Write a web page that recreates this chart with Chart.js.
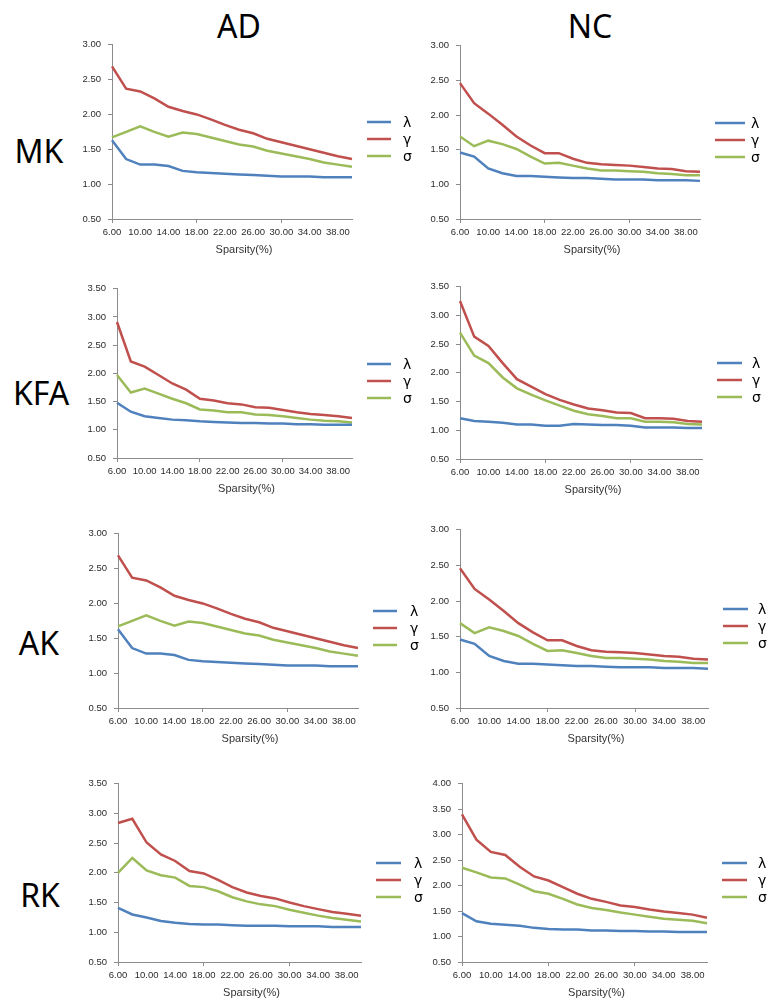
<!DOCTYPE html>
<html><head><meta charset="utf-8">
<script src="https://cdn.jsdelivr.net/npm/chart.js@4.4.1/dist/chart.umd.min.js"></script>
<style>
html,body{margin:0;padding:0;background:#fff}
body{width:769px;height:1002px;position:relative;overflow:hidden;font-family:"Noto Sans","Liberation Sans",sans-serif}
.lbl{position:absolute;font-size:32px;color:#000;transform:translate(-50%,-50%);line-height:1;white-space:nowrap}
canvas{position:absolute}
</style></head><body>
<div class="lbl" style="left:239px;top:26px">AD</div>
<div class="lbl" style="left:590px;top:26px">NC</div>
<div class="lbl" style="left:39px;top:151px">MK</div>
<div class="lbl" style="left:41px;top:393px">KFA</div>
<div class="lbl" style="left:39px;top:643px">AK</div>
<div class="lbl" style="left:40px;top:895px">RK</div>
<script>
// ---- data ----
const sparsity = ['6.00','8.00','10.00','12.00','14.00','16.00','18.00','20.00','22.00','24.00','26.00','28.00','30.00','32.00','34.00','36.00','38.00','40.00'];
const seriesNames = ['λ','γ','σ'];
const axisTitle = 'Sparsity(%)';

const mkAdLambda = [1.63,1.36,1.28,1.28,1.26,1.19,1.17,1.16,1.15,1.14,1.13,1.12,1.11,1.11,1.11,1.10,1.10,1.10];
const mkAdGamma  = [2.69,2.37,2.33,2.23,2.11,2.05,2.00,1.93,1.85,1.78,1.73,1.65,1.60,1.55,1.50,1.45,1.40,1.36];
const mkAdSigma  = [1.67,1.75,1.83,1.75,1.68,1.74,1.72,1.67,1.62,1.57,1.54,1.48,1.44,1.40,1.36,1.31,1.28,1.25];

const mkNcLambda = [1.46,1.40,1.23,1.16,1.12,1.12,1.11,1.10,1.09,1.09,1.08,1.07,1.07,1.07,1.06,1.06,1.06,1.05];
const mkNcGamma  = [2.46,2.17,2.02,1.86,1.69,1.56,1.45,1.45,1.37,1.31,1.29,1.28,1.27,1.25,1.23,1.22,1.19,1.18];
const mkNcSigma  = [1.69,1.55,1.63,1.58,1.51,1.40,1.30,1.31,1.27,1.23,1.20,1.20,1.19,1.18,1.16,1.15,1.13,1.13];

const kfaAdLambda = [1.48,1.32,1.24,1.21,1.18,1.17,1.15,1.14,1.13,1.12,1.12,1.11,1.11,1.10,1.10,1.09,1.09,1.09];
const kfaAdGamma  = [2.91,2.21,2.12,1.97,1.82,1.71,1.55,1.52,1.47,1.45,1.40,1.39,1.35,1.31,1.28,1.26,1.24,1.21];
const kfaAdSigma  = [1.97,1.66,1.73,1.64,1.55,1.47,1.36,1.34,1.31,1.31,1.27,1.26,1.24,1.21,1.18,1.16,1.15,1.13];

const kfaNcLambda = [1.21,1.16,1.15,1.13,1.10,1.10,1.08,1.08,1.11,1.10,1.09,1.09,1.08,1.05,1.05,1.05,1.04,1.04];
const kfaNcGamma  = [3.25,2.63,2.47,2.17,1.89,1.76,1.63,1.53,1.45,1.38,1.35,1.31,1.30,1.21,1.21,1.20,1.16,1.15];
const kfaNcSigma  = [2.70,2.30,2.17,1.92,1.73,1.62,1.52,1.43,1.34,1.28,1.25,1.21,1.21,1.15,1.15,1.14,1.11,1.10];

const akAdLambda = [1.63,1.36,1.28,1.28,1.26,1.19,1.17,1.16,1.15,1.14,1.13,1.12,1.11,1.11,1.11,1.10,1.10,1.10];
const akAdGamma  = [2.69,2.37,2.33,2.23,2.11,2.05,2.00,1.93,1.85,1.78,1.73,1.65,1.60,1.55,1.50,1.45,1.40,1.36];
const akAdSigma  = [1.67,1.75,1.83,1.75,1.68,1.74,1.72,1.67,1.62,1.57,1.54,1.48,1.44,1.40,1.36,1.31,1.28,1.25];

const akNcLambda = [1.46,1.40,1.23,1.16,1.12,1.12,1.11,1.10,1.09,1.09,1.08,1.07,1.07,1.07,1.06,1.06,1.06,1.05];
const akNcGamma  = [2.46,2.17,2.02,1.86,1.69,1.56,1.45,1.45,1.37,1.31,1.29,1.28,1.27,1.25,1.23,1.22,1.19,1.18];
const akNcSigma  = [1.69,1.55,1.63,1.58,1.51,1.40,1.30,1.31,1.27,1.23,1.20,1.20,1.19,1.18,1.16,1.15,1.13,1.13];

const rkAdLambda = [1.41,1.30,1.25,1.19,1.16,1.14,1.13,1.13,1.12,1.11,1.11,1.11,1.10,1.10,1.10,1.09,1.09,1.09];
const rkAdGamma  = [2.84,2.91,2.51,2.31,2.20,2.03,1.99,1.88,1.76,1.67,1.61,1.57,1.50,1.44,1.39,1.34,1.31,1.28];
const rkAdSigma  = [2.00,2.25,2.04,1.96,1.92,1.78,1.76,1.69,1.59,1.52,1.47,1.44,1.38,1.33,1.28,1.24,1.21,1.18];

const rkNcLambda = [1.46,1.30,1.25,1.23,1.21,1.17,1.15,1.14,1.14,1.12,1.12,1.11,1.11,1.10,1.10,1.09,1.09,1.09];
const rkNcGamma  = [3.40,2.90,2.66,2.60,2.37,2.18,2.10,1.97,1.84,1.74,1.68,1.61,1.58,1.53,1.49,1.46,1.43,1.37];
const rkNcSigma  = [2.35,2.26,2.16,2.14,2.02,1.89,1.84,1.74,1.63,1.56,1.52,1.47,1.43,1.39,1.35,1.33,1.31,1.26];

const yMaxes = [3.0, 3.0, 3.5, 3.5, 3.0, 3.0, 3.5, 4.0];

// ---- layout (positions/styles only) ----
const colors = ['#4F81BD','#C0504D','#9BBB59'];
const AXIS = '#8C8C8C';
const TICKFONT = {family:'"Liberation Sans", Arial, sans-serif', size:9.5};
const panels = [
  {series:[mkAdLambda,mkAdGamma,mkAdSigma],   cl:60,  cw:380, L:112, R:352, T:44,  B:219, ymax:yMaxes[0], lineLen:24, gap:12},
  {series:[mkNcLambda,mkNcGamma,mkNcSigma],   cl:400, cw:369, L:460, R:700, T:45,  B:219, ymax:yMaxes[1], lineLen:30, gap:6},
  {series:[kfaAdLambda,kfaAdGamma,kfaAdSigma],cl:60,  cw:380, L:117, R:352, T:288, B:458, ymax:yMaxes[2], lineLen:24, gap:12},
  {series:[kfaNcLambda,kfaNcGamma,kfaNcSigma],cl:400, cw:369, L:460, R:702, T:286, B:459, ymax:yMaxes[3], lineLen:25, gap:10},
  {series:[akAdLambda,akAdGamma,akAdSigma],   cl:60,  cw:380, L:118, R:358, T:533, B:708, ymax:yMaxes[4], lineLen:24, gap:13},
  {series:[akNcLambda,akNcGamma,akNcSigma],   cl:400, cw:369, L:460, R:708, T:529, B:708, ymax:yMaxes[5], lineLen:25, gap:10},
  {series:[rkAdLambda,rkAdGamma,rkAdSigma],   cl:60,  cw:380, L:118, R:361, T:783, B:962, ymax:yMaxes[6], lineLen:25, gap:13},
  {series:[rkNcLambda,rkNcGamma,rkNcSigma],   cl:400, cw:369, L:462, R:707, T:783, B:962, ymax:yMaxes[7], lineLen:25, gap:11}
];

const annotate = {
  id:'annotate',
  afterDraw(chart, args, opts){
    const {ctx, chartArea:a} = chart;
    ctx.save();
    ctx.font = '11px "Liberation Sans", Arial, sans-serif';
    ctx.fillStyle = '#333';
    ctx.textAlign = 'center';
    ctx.textBaseline = 'middle';
    ctx.fillText(opts.title, (a.left + a.right) / 2 + 12, a.bottom + 31);
    const cy = (a.top + a.bottom) / 2 + 7.5;
    chart.data.datasets.forEach((ds, i) => {
      const y = Math.round(cy + (i - 1) * 17);
      const x0 = a.right + 15;
      ctx.strokeStyle = ds.borderColor;
      ctx.lineWidth = ds.borderWidth;
      ctx.beginPath(); ctx.moveTo(x0, y); ctx.lineTo(x0 + opts.lineLen, y); ctx.stroke();
      ctx.fillStyle = '#000';
      ctx.font = '14px "DejaVu Sans", sans-serif';
      ctx.textAlign = 'left';
      ctx.fillText(ds.label, x0 + opts.lineLen + opts.gap, y + 1);
    });
    ctx.restore();
  }
};

Chart.defaults.animation = false;

panels.forEach(p => {
  const c = document.createElement('canvas');
  const padTop = 12, xH = 45;
  const top = p.T - padTop;
  const h = (p.B - p.T) + padTop + xH;
  c.style.left = p.cl + 'px';
  c.style.top = top + 'px';
  c.style.width = p.cw + 'px';
  c.style.height = h + 'px';
  c.width = p.cw; c.height = h;
  document.body.appendChild(c);
  new Chart(c, {
    type:'line',
    data:{
      labels: sparsity,
      datasets: p.series.map((s, i) => ({
        label: seriesNames[i], data: s, borderColor: colors[i], backgroundColor: colors[i],
        borderWidth: 2.5, pointRadius: 0, tension: 0, fill:false
      }))
    },
    options:{
      responsive:false,
      maintainAspectRatio:false,
      layout:{padding:{left:0, top:padTop, bottom:0, right: p.cw - (p.R - p.cl)}},
      plugins:{legend:{display:false}, tooltip:{enabled:false}, annotate:{title:axisTitle, lineLen:p.lineLen, gap:p.gap}},
      scales:{
        x:{
          type:'category', offset:false,
          grid:{display:true, drawOnChartArea:false, drawTicks:true, tickLength:4,
                color: ctx => (ctx.index % 6 === 0 ? AXIS : 'rgba(0,0,0,0)')},
          border:{display:true, color:AXIS, width:1},
          ticks:{autoSkip:false, maxRotation:0, minRotation:0, padding:4, font:TICKFONT, color:'#2b2b2b',
                 callback:(v, i) => (i % 2 === 0 ? sparsity[i] : '')},
          afterFit: s => { s.height = xH; }
        },
        y:{
          min:0.5, max:p.ymax,
          ticks:{stepSize:0.5, padding:7, font:TICKFONT, color:'#2b2b2b', callback: v => Number(v).toFixed(2)},
          grid:{display:true, drawOnChartArea:false, drawTicks:true, tickLength:4, color:AXIS},
          border:{display:true, color:AXIS, width:1},
          afterFit: s => { s.width = p.L - p.cl; }
        }
      }
    },
    plugins:[annotate]
  });
});
</script>
</body></html>
